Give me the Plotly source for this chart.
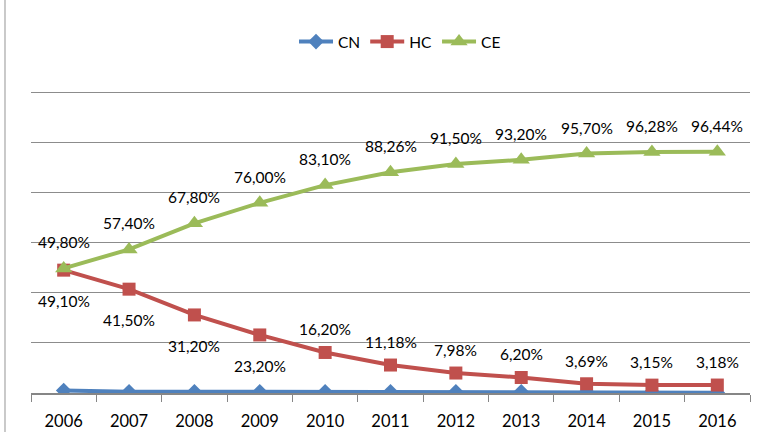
import plotly.graph_objects as go

years = ["2006", "2007", "2008", "2009", "2010", "2011", "2012", "2013", "2014", "2015", "2016"]
cn = [1.0, 0.5, 0.5, 0.5, 0.5, 0.5, 0.5, 0.5, 0.5, 0.45, 0.1]
hc = [49.10, 41.50, 31.20, 23.20, 16.20, 11.18, 7.98, 6.20, 3.69, 3.15, 3.18]
ce = [49.80, 57.40, 67.80, 76.00, 83.10, 88.26, 91.50, 93.20, 95.70, 96.28, 96.44]

C_CN = "#4F81BD"
C_HC = "#C0504D"
C_CE = "#9BBB59"
FONT = "Lato"

def fmt(v):
    return f"{v:.2f}".replace(".", ",") + "%"

fig = go.Figure()
fig.add_trace(go.Scatter(x=years, y=cn, name="CN", mode="lines+markers",
                         line=dict(color=C_CN, width=4),
                         marker=dict(symbol="diamond", size=12, color=C_CN)))
fig.add_trace(go.Scatter(x=years, y=hc, name="HC", mode="lines+markers",
                         line=dict(color=C_HC, width=4),
                         marker=dict(symbol="square", size=13, color=C_HC)))
fig.add_trace(go.Scatter(x=years, y=ce, name="CE", mode="lines+markers",
                         line=dict(color=C_CE, width=4),
                         marker=dict(symbol="triangle-up", size=15, color=C_CE)))

annotations = []
for i, v in enumerate(ce):
    annotations.append(dict(x=i, y=v, xref="x", yref="y", text=fmt(v), showarrow=False, yshift=26,
                            font=dict(family=FONT, size=15.5, color="#000000")))
for i, v in enumerate(hc):
    shift = -31 if i < 4 else 23
    annotations.append(dict(x=i, y=v, xref="x", yref="y", text=fmt(v), showarrow=False, yshift=shift,
                            font=dict(family=FONT, size=15.5, color="#000000")))

ml, mr, mt, mb = 31, 34, 89, 39
pw = 784 - ml - mr
ph = 432 - mt - mb

fig.update_layout(
    width=784, height=432,
    margin=dict(l=ml, r=mr, t=mt, b=mb, autoexpand=False),
    paper_bgcolor="white", plot_bgcolor="white",
    font=dict(family=FONT, size=15, color="#000000"),
    showlegend=True,
    legend=dict(orientation="h", x=400 / 784, xref="container", xanchor="center",
                y=1 - 42 / 432, yref="container", yanchor="middle",
                font=dict(family=FONT, size=15.5, color="#000000"),
                itemwidth=34, tracegroupgap=0),
    annotations=annotations,
    xaxis=dict(type="category", range=[-0.5, 10.5], showgrid=False, automargin=False,
               showline=True, linecolor="#868686", linewidth=1.5,
               ticks="outside", tickson="boundaries", ticklen=7, tickcolor="#868686",
               tickfont=dict(family=FONT, size=16.5, color="#000000"),
               ticklabelstandoff=12, fixedrange=True),
    yaxis=dict(range=[0, 121.5], tickvals=[20, 40, 60, 80, 100, 120], showgrid=True,
               gridcolor="#8C8C8C", gridwidth=1.2, automargin=False,
               showticklabels=False, zeroline=False, showline=False, fixedrange=True),
    shapes=[dict(type="line", xref="paper", yref="paper",
                 x0=(5 - ml) / pw, x1=(5 - ml) / pw, y0=-mb / ph, y1=mt / ph + 1,
                 line=dict(color="#A6A6A6", width=1.2))],
)

fig.write_html("out.html", config={"displayModeBar": False},
               post_script="document.body.style.margin='0';")
